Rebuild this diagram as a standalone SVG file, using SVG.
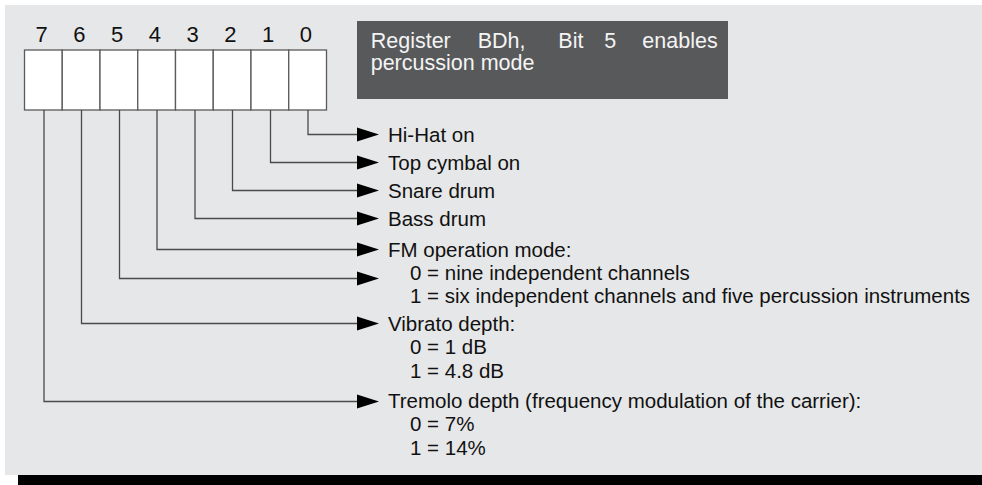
<svg xmlns="http://www.w3.org/2000/svg" width="982" height="485" viewBox="0 0 982 485">
<defs>
<style>
.bg{fill:#e6e7e8}
.cell{fill:#ffffff;stroke:#5a5a5a;stroke-width:1.3}
.dig{font-family:"Liberation Sans",Arial,sans-serif;font-size:22px;fill:#111;text-anchor:middle}
.lbl{font-family:"Liberation Sans",Arial,sans-serif;font-size:20.5px;fill:#111}
.note{font-family:"Liberation Sans",Arial,sans-serif;font-size:21.5px;fill:#f4f4f4}
.conn{fill:none;stroke:#4a4a4a;stroke-width:1.3}
.head{fill:#000}
</style>
</defs>
<rect class="bg" x="5" y="5" width="977" height="470"/>
<rect x="18" y="475" width="964" height="10" fill="#000"/>

<g id="register">
<rect class="cell" x="24.5" y="50" width="37.75" height="60"/>
<rect class="cell" x="62.25" y="50" width="37.75" height="60"/>
<rect class="cell" x="100" y="50" width="37.75" height="60"/>
<rect class="cell" x="137.75" y="50" width="37.75" height="60"/>
<rect class="cell" x="175.5" y="50" width="37.75" height="60"/>
<rect class="cell" x="213.25" y="50" width="37.75" height="60"/>
<rect class="cell" x="251" y="50" width="37.75" height="60"/>
<rect class="cell" x="288.75" y="50" width="37.75" height="60"/>
<text class="dig" x="41.5" y="42">7</text>
<text class="dig" x="79.3" y="42">6</text>
<text class="dig" x="117.2" y="42">5</text>
<text class="dig" x="154.9" y="42">4</text>
<text class="dig" x="192.6" y="42">3</text>
<text class="dig" x="230.4" y="42">2</text>
<text class="dig" x="268.1" y="42">1</text>
<text class="dig" x="305.9" y="42">0</text>
</g>

<g id="note">
<rect x="357" y="21" width="371" height="78" fill="#58595b"/>
<text class="note" y="48"><tspan x="370.7">Register</tspan><tspan x="477.7">BDh,</tspan><tspan x="558.3">Bit</tspan><tspan x="604.3">5</tspan><tspan x="717.7" text-anchor="end">enables</tspan></text>
<text class="note" x="370.7" y="70">percussion mode</text>
</g>

<g id="connectors">
<path class="conn" d="M308 110V134.5H357"/>
<path class="conn" d="M270.5 110V162.5H357"/>
<path class="conn" d="M232.5 110V190.5H357"/>
<path class="conn" d="M195 110V218.5H357"/>
<path class="conn" d="M157 110V249.5H357"/>
<path class="conn" d="M119.5 110V278.5H357"/>
<path class="conn" d="M81.5 110V323.5H357"/>
<path class="conn" d="M44 110V401.5H357"/>
<polygon class="head" points="357,127.5 379,134.5 357,141.5"/>
<polygon class="head" points="357,155.5 379,162.5 357,169.5"/>
<polygon class="head" points="357,183.5 379,190.5 357,197.5"/>
<polygon class="head" points="357,211.5 379,218.5 357,225.5"/>
<polygon class="head" points="357,242.5 379,249.5 357,256.5"/>
<polygon class="head" points="357,271.5 379,278.5 357,285.5"/>
<polygon class="head" points="357,316.5 379,323.5 357,330.5"/>
<polygon class="head" points="357,394.5 379,401.5 357,408.5"/>
</g>

<g id="bit0"><text class="lbl" x="388" y="141.7">Hi-Hat on</text></g>
<g id="bit1"><text class="lbl" x="388" y="169.7">Top cymbal on</text></g>
<g id="bit2"><text class="lbl" x="388" y="197.7">Snare drum</text></g>
<g id="bit3"><text class="lbl" x="388" y="225.7">Bass drum</text></g>
<g id="bit4-5">
<text class="lbl" x="388" y="256.5">FM operation mode:</text>
<text class="lbl" x="410" y="279.5">0 = nine independent channels</text>
<text class="lbl" x="410" y="302.5">1 = six independent channels and five percussion instruments</text>
</g>
<g id="bit6">
<text class="lbl" x="388" y="330.7">Vibrato depth:</text>
<text class="lbl" x="410" y="354.3">0 = 1 dB</text>
<text class="lbl" x="410" y="378">1 = 4.8 dB</text>
</g>
<g id="bit7">
<text class="lbl" x="388" y="408.3">Tremolo depth (frequency modulation of the carrier):</text>
<text class="lbl" x="410" y="431.3">0 = 7%</text>
<text class="lbl" x="410" y="455">1 = 14%</text>
</g>
</svg>
